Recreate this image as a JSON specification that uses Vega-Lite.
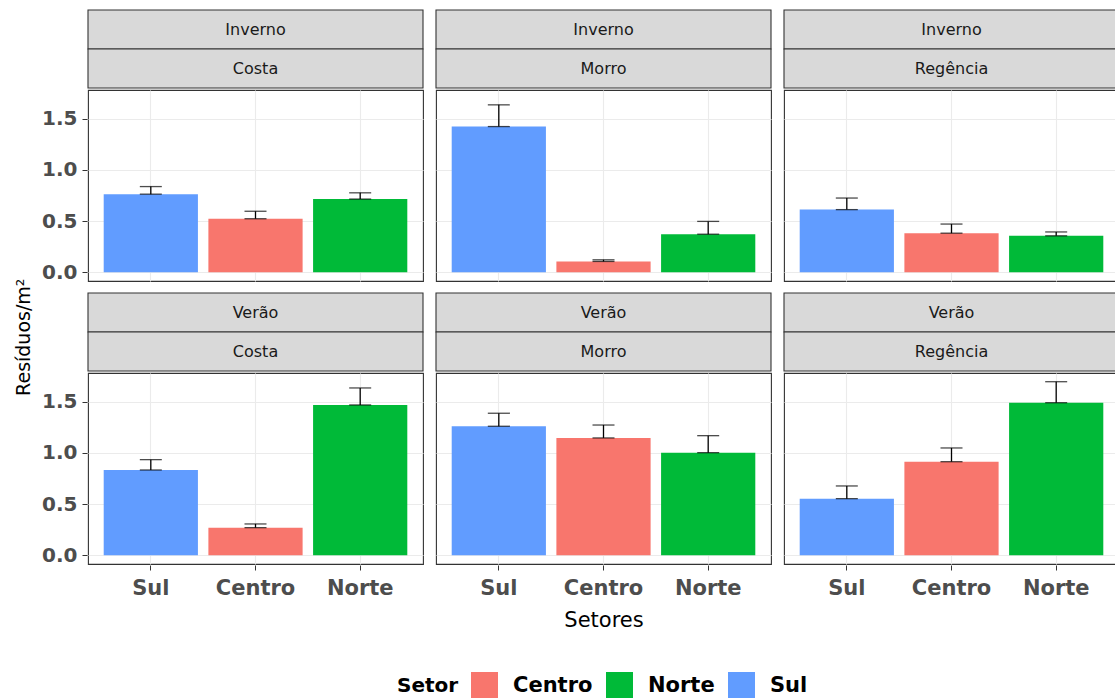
{
  "$schema": "https://vega.github.io/schema/vega-lite/v6.json",
  "padding": {"left": 14, "top": 9, "right": 0, "bottom": 0},
  "background": "white",
  "datasets": {
    "barras": [
      {"estacao": "Inverno", "local": "Costa", "setor": "Sul", "media": 0.763, "superior": 0.837},
      {"estacao": "Inverno", "local": "Costa", "setor": "Centro", "media": 0.523, "superior": 0.596},
      {"estacao": "Inverno", "local": "Costa", "setor": "Norte", "media": 0.715, "superior": 0.776},
      {"estacao": "Inverno", "local": "Morro", "setor": "Sul", "media": 1.423, "superior": 1.635},
      {"estacao": "Inverno", "local": "Morro", "setor": "Centro", "media": 0.106, "superior": 0.122},
      {"estacao": "Inverno", "local": "Morro", "setor": "Norte", "media": 0.372, "superior": 0.497},
      {"estacao": "Inverno", "local": "Regência", "setor": "Sul", "media": 0.612, "superior": 0.725},
      {"estacao": "Inverno", "local": "Regência", "setor": "Centro", "media": 0.382, "superior": 0.471},
      {"estacao": "Inverno", "local": "Regência", "setor": "Norte", "media": 0.356, "superior": 0.394},
      {"estacao": "Verão", "local": "Costa", "setor": "Sul", "media": 0.833, "superior": 0.934},
      {"estacao": "Verão", "local": "Costa", "setor": "Centro", "media": 0.27, "superior": 0.306},
      {"estacao": "Verão", "local": "Costa", "setor": "Norte", "media": 1.468, "superior": 1.634},
      {"estacao": "Verão", "local": "Morro", "setor": "Sul", "media": 1.26, "superior": 1.387},
      {"estacao": "Verão", "local": "Morro", "setor": "Centro", "media": 1.146, "superior": 1.272},
      {"estacao": "Verão", "local": "Morro", "setor": "Norte", "media": 1.002, "superior": 1.168},
      {"estacao": "Verão", "local": "Regência", "setor": "Sul", "media": 0.553, "superior": 0.677},
      {"estacao": "Verão", "local": "Regência", "setor": "Centro", "media": 0.914, "superior": 1.048},
      {"estacao": "Verão", "local": "Regência", "setor": "Norte", "media": 1.49, "superior": 1.695}
    ],
    "faixas": [
      {"estacao": "Inverno", "local": "Costa", "nivel": "1", "rotulo": "Inverno"},
      {"estacao": "Inverno", "local": "Costa", "nivel": "2", "rotulo": "Costa"},
      {"estacao": "Inverno", "local": "Morro", "nivel": "1", "rotulo": "Inverno"},
      {"estacao": "Inverno", "local": "Morro", "nivel": "2", "rotulo": "Morro"},
      {"estacao": "Inverno", "local": "Regência", "nivel": "1", "rotulo": "Inverno"},
      {"estacao": "Inverno", "local": "Regência", "nivel": "2", "rotulo": "Regência"},
      {"estacao": "Verão", "local": "Costa", "nivel": "1", "rotulo": "Verão"},
      {"estacao": "Verão", "local": "Costa", "nivel": "2", "rotulo": "Costa"},
      {"estacao": "Verão", "local": "Morro", "nivel": "1", "rotulo": "Verão"},
      {"estacao": "Verão", "local": "Morro", "nivel": "2", "rotulo": "Morro"},
      {"estacao": "Verão", "local": "Regência", "nivel": "1", "rotulo": "Verão"},
      {"estacao": "Verão", "local": "Regência", "nivel": "2", "rotulo": "Regência"}
    ]
  },
  "title": {
    "text": "Resíduos/m²",
    "orient": "left",
    "anchor": "middle",
    "fontSize": 19,
    "fontWeight": "normal",
    "color": "#000000",
    "offset": 8,
    "dx": 17
  },
  "spacing": 9,
  "resolve": {"scale": {"x": "independent", "y": "independent"}},
  "vconcat": [
    {
      "spacing": 0,
      "resolve": {"scale": {"x": "independent", "y": "independent"}},
      "vconcat": [
        {
          "data": {"name": "faixas"},
          "transform": [{"filter": "datum.estacao === 'Inverno'"}],
          "facet": {"column": {"field": "local", "type": "nominal", "header": null}},
          "spacing": 11,
          "spec": {
            "width": 335,
            "height": 78,
            "view": {"stroke": null},
            "layer": [
              {
                "mark": {"type": "rect", "fill": "#D9D9D9", "stroke": "#333333", "strokeWidth": 1.1},
                "encoding": {"y": {"field": "nivel", "type": "ordinal", "scale": {"paddingInner": 0, "paddingOuter": 0}, "axis": null}}
              },
              {
                "mark": {"type": "text", "fontSize": 16, "color": "#1A1A1A"},
                "encoding": {
                  "y": {"field": "nivel", "type": "ordinal", "axis": null},
                  "text": {"field": "rotulo"}
                }
              }
            ]
          }
        },
        {
          "data": {"name": "barras"},
          "transform": [{"filter": "datum.estacao === 'Inverno'"}],
          "facet": {"column": {"field": "local", "type": "nominal", "header": null}},
          "spacing": 11,
          "spec": {
            "width": 335,
            "height": 191,
            "encoding": {
              "x": {
                "field": "setor", "type": "nominal", "sort": ["Sul", "Centro", "Norte"],
                "scale": {"paddingInner": 0.1, "paddingOuter": 0.15},
                "axis": {"labels": false, "ticks": false, "domain": false, "title": null, "grid": true, "gridColor": "#EBEBEB", "gridWidth": 1.1}
              }
            },
            "layer": [
              {
                "mark": {"type": "bar"},
                "encoding": {
                  "y": {
                    "field": "media", "type": "quantitative",
                    "scale": {"domain": [-0.085, 1.78], "nice": false, "zero": false},
                    "axis": {
                      "title": null,
                      "values": [0, 0.25, 0.5, 0.75, 1, 1.25, 1.5, 1.75],
                      "labelExpr": "datum.value % 0.5 === 0 ? format(datum.value, '.1f') : ''",
                      "grid": true,
                      "gridColor": "#EBEBEB",
                      "gridWidth": {"condition": {"test": "datum.value % 0.5 !== 0", "value": 0.55}, "value": 1.1},
                      "tickColor": {"condition": {"test": "datum.value % 0.5 !== 0", "value": "transparent"}, "value": "#333333"},
                      "domain": false
                    }
                  },
                  "color": {
                    "field": "setor", "type": "nominal", "title": "Setor",
                    "scale": {"domain": ["Centro", "Norte", "Sul"], "range": ["#F8766D", "#00BA38", "#619CFF"]}
                  }
                }
              },
              {
                "mark": {"type": "errorbar", "color": "#000000", "ticks": {"size": 22, "thickness": 1.3}, "rule": {"strokeWidth": 1.3}},
                "encoding": {
                  "y": {"field": "media", "type": "quantitative"},
                  "y2": {"field": "superior"}
                }
              }
            ]
          }
        }
      ]
    },
    {
      "spacing": 0,
      "resolve": {"scale": {"x": "independent", "y": "independent"}},
      "vconcat": [
        {
          "data": {"name": "faixas"},
          "transform": [{"filter": "datum.estacao === 'Verão'"}],
          "facet": {"column": {"field": "local", "type": "nominal", "header": null}},
          "spacing": 11,
          "spec": {
            "width": 335,
            "height": 78,
            "view": {"stroke": null},
            "layer": [
              {
                "mark": {"type": "rect", "fill": "#D9D9D9", "stroke": "#333333", "strokeWidth": 1.1},
                "encoding": {"y": {"field": "nivel", "type": "ordinal", "scale": {"paddingInner": 0, "paddingOuter": 0}, "axis": null}}
              },
              {
                "mark": {"type": "text", "fontSize": 16, "color": "#1A1A1A"},
                "encoding": {
                  "y": {"field": "nivel", "type": "ordinal", "axis": null},
                  "text": {"field": "rotulo"}
                }
              }
            ]
          }
        },
        {
          "data": {"name": "barras"},
          "transform": [{"filter": "datum.estacao === 'Verão'"}],
          "facet": {
            "column": {
              "field": "local", "type": "nominal", "title": "Setores",
              "header": {"labels": false, "titleOrient": "bottom", "titleFontSize": 21, "titleFontWeight": "normal", "titleColor": "#000000", "titlePadding": 2}
            }
          },
          "spacing": 11,
          "spec": {
            "width": 335,
            "height": 191,
            "encoding": {
              "x": {
                "field": "setor", "type": "nominal", "sort": ["Sul", "Centro", "Norte"],
                "scale": {"paddingInner": 0.1, "paddingOuter": 0.15},
                "axis": {
                  "title": null,
                  "labelAngle": 0, "labelFontSize": 21, "labelFontWeight": "bold", "labelColor": "#4D4D4D", "labelPadding": 7,
                  "ticks": true, "tickSize": 5, "tickColor": "#333333", "domain": false,
                  "grid": true, "gridColor": "#EBEBEB", "gridWidth": 1.1
                }
              }
            },
            "layer": [
              {
                "mark": {"type": "bar"},
                "encoding": {
                  "y": {
                    "field": "media", "type": "quantitative",
                    "scale": {"domain": [-0.085, 1.78], "nice": false, "zero": false},
                    "axis": {
                      "title": null,
                      "values": [0, 0.25, 0.5, 0.75, 1, 1.25, 1.5, 1.75],
                      "labelExpr": "datum.value % 0.5 === 0 ? format(datum.value, '.1f') : ''",
                      "grid": true,
                      "gridColor": "#EBEBEB",
                      "gridWidth": {"condition": {"test": "datum.value % 0.5 !== 0", "value": 0.55}, "value": 1.1},
                      "tickColor": {"condition": {"test": "datum.value % 0.5 !== 0", "value": "transparent"}, "value": "#333333"},
                      "domain": false
                    }
                  },
                  "color": {
                    "field": "setor", "type": "nominal", "title": "Setor",
                    "scale": {"domain": ["Centro", "Norte", "Sul"], "range": ["#F8766D", "#00BA38", "#619CFF"]}
                  }
                }
              },
              {
                "mark": {"type": "errorbar", "color": "#000000", "ticks": {"size": 22, "thickness": 1.3}, "rule": {"strokeWidth": 1.3}},
                "encoding": {
                  "y": {"field": "media", "type": "quantitative"},
                  "y2": {"field": "superior"}
                }
              }
            ]
          }
        }
      ]
    }
  ],
  "config": {
    "font": "DejaVu Sans",
    "view": {"stroke": "#333333", "strokeWidth": 1.1},
    "axisY": {"labelFontSize": 20, "labelFontWeight": "bold", "labelColor": "#4D4D4D", "labelPadding": 5, "tickSize": 5},
    "legend": {
      "orient": "none",
      "legendX": 309,
      "legendY": 662,
      "direction": "horizontal",
      "titleOrient": "left",
      "titleFontSize": 20,
      "titleFontWeight": "bold",
      "titleColor": "#000000",
      "titlePadding": 12,
      "labelFontSize": 21,
      "labelFontWeight": "bold",
      "labelColor": "#000000",
      "symbolType": "square",
      "symbolSize": 729,
      "symbolStrokeWidth": 0,
      "symbolOpacity": 1,
      "columnPadding": 13,
      "labelOffset": 15
    }
  }
}
